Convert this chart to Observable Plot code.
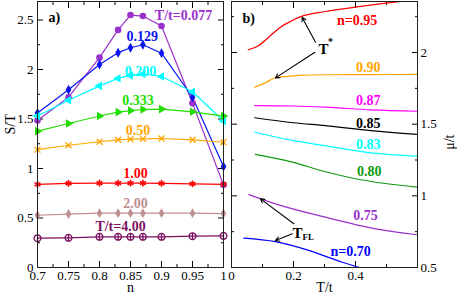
<!DOCTYPE html>
<html><head><meta charset="utf-8">
<script src="https://cdn.jsdelivr.net/npm/d3@7"></script>
<script src="https://cdn.jsdelivr.net/npm/@observablehq/plot@0.6"></script>
<style>
body{margin:0;background:#fff}
#wrap{position:relative;width:457px;height:297px;overflow:hidden}
#wrap svg{position:absolute;left:0;top:0}
#wrap svg, #wrap svg text{font-family:"Liberation Serif","DejaVu Serif",serif !important}
</style></head><body><div id="wrap"></div>
<script>
// ---------- panel a data: S/T vs n ----------
const nValues = [0.7, 0.75, 0.8, 0.83, 0.85, 0.87, 0.9, 0.95, 1.0];
const st_T0077 = [1.485, 1.72, 2.12, 2.40, 2.55, 2.54, 2.44, 1.66, 0.835];
const st_T0129 = [1.56, 1.795, 2.05, 2.17, 2.22, 2.25, 2.165, 1.72, 1.02];
const st_T0200 = [1.53, 1.69, 1.835, 1.91, 1.94, 1.955, 1.93, 1.775, 1.48];
const st_T0333 = [1.377, 1.455, 1.53, 1.57, 1.585, 1.596, 1.60, 1.573, 1.53];
const st_T050  = [1.19, 1.235, 1.27, 1.29, 1.296, 1.30, 1.303, 1.29, 1.265];
const st_T100  = [0.84, 0.85, 0.853, 0.853, 0.853, 0.853, 0.85, 0.845, 0.84];
const st_T200  = [0.528, 0.54, 0.549, 0.549, 0.549, 0.549, 0.549, 0.549, 0.545];
const st_T400  = [0.296, 0.30, 0.31, 0.31, 0.31, 0.31, 0.31, 0.316, 0.32];
const seriesA = ["0.077", "0.129", "0.200", "0.333", "0.50", "1.00", "2.00", "4.00"];
const valuesA = [st_T0077, st_T0129, st_T0200, st_T0333, st_T050, st_T100, st_T200, st_T400];
const labelsA = ["T/t=0.077", "0.129", "0.200", "0.333", "0.50", "1.00", "2.00", "T/t=4.00"];
const labelNA = [0.9355, 0.869, 0.866, 0.862, 0.862, 0.858, 0.858, 0.834];
const labelVA = [2.505, 2.283, 1.93, 1.643, 1.343, 0.906, 0.60, 0.367];

// ---------- panel b data: mu/t vs T/t ----------
const curvesN = ["0.95", "0.90", "0.87", "0.85", "0.83", "0.80", "0.75", "0.70"];
const T_095 = [0.054, 0.088, 0.12, 0.158, 0.196, 0.228, 0.303, 0.41, 0.497, 0.6];
const mu_095 = [2.019, 2.049, 2.107, 2.177, 2.223, 2.254, 2.286, 2.32, 2.344, 2.368];
const T_090 = [0.075, 0.11, 0.142, 0.217, 0.3, 0.45, 0.6];
const mu_090 = [1.758, 1.79, 1.824, 1.84, 1.845, 1.846, 1.847];
const T_087 = [0.075, 0.2, 0.303, 0.45, 0.6];
const mu_087 = [1.63, 1.627, 1.619, 1.60, 1.59];
const T_085 = [0.075, 0.2, 0.303, 0.45, 0.6];
const mu_085 = [1.545, 1.51, 1.49, 1.455, 1.428];
const T_083 = [0.075, 0.2, 0.3, 0.45, 0.6];
const mu_083 = [1.444, 1.385, 1.35, 1.30, 1.277];
const T_080 = [0.077, 0.196, 0.3, 0.4, 0.6];
const mu_080 = [1.289, 1.235, 1.17, 1.119, 1.06];
const T_075 = [0.056, 0.142, 0.303, 0.465, 0.6];
const mu_075 = [1.009, 0.944, 0.851, 0.77, 0.728];
const T_070 = [0.04, 0.142, 0.249, 0.357, 0.41, 0.45];
const mu_070 = [0.705, 0.68, 0.619, 0.537, 0.502, 0.475];
const curvesT = [T_095, T_090, T_087, T_085, T_083, T_080, T_075, T_070];
const curvesMu = [mu_095, mu_090, mu_087, mu_085, mu_083, mu_080, mu_075, mu_070];
const labelsB = ["n=0.95", "0.90", "0.87", "0.85", "0.83", "0.80", "0.75", "n=0.70"];
const labelTB = [0.405, 0.441, 0.441, 0.441, 0.441, 0.444, 0.432, 0.384];
const labelMuB = [2.195, 1.867, 1.637, 1.47, 1.33, 1.135, 0.828, 0.577];
// annotation arrows (data coords)
const arrowsB = [
  {x1: 0.271, y1: 2.072, x2: 0.228, y2: 2.245},
  {x1: 0.269, y1: 2.002, x2: 0.142, y2: 1.823},
  {x1: 0.201, y1: 0.805, x2: 0.0935, y2: 0.979},
  {x1: 0.196, y1: 0.735, x2: 0.142, y2: 0.688}
];

// ---------- styles ----------
const colA = {"0.077": "#9932cc", "0.129": "#0a14f0", "0.200": "#00ffff", "0.333": "#22dd00",
  "0.50": "#ffa500", "1.00": "#ff0000", "2.00": "#c09090", "4.00": "#7b1060"};
const colB = {"0.95": "#ff0000", "0.90": "#ffa500", "0.87": "#ff00ff", "0.85": "#000000",
  "0.83": "#00ffff", "0.80": "#109a10", "0.75": "#9932cc", "0.70": "#0000ff"};

const rowsA = [];
seriesA.forEach((s, k) => nValues.forEach((n, i) => rowsA.push({s, n, v: valuesA[k][i]})));
const rowsB = [];
curvesN.forEach((c, k) => curvesT[k].forEach((t, i) => rowsB.push({c, t, mu: curvesMu[k][i]})));
const labA = labelsA.map((text, i) => ({text, n: labelNA[i], v: labelVA[i], s: seriesA[i]}));
const labB = labelsB.map((text, i) => ({text, t: labelTB[i], mu: labelMuB[i], c: curvesN[i]}));

const circleBar = {draw(ctx, size) {
  const r = Math.sqrt(size / Math.PI);
  ctx.moveTo(r, 0); ctx.arc(0, 0, r, 0, 2 * Math.PI);
  ctx.moveTo(0, -r); ctx.lineTo(0, r);
}};
const mk = {
  "0.077": {symbol: "circle", r: 3.3, fill: colA["0.077"]},
  "0.129": {symbol: "diamond", r: 3.0, fill: colA["0.129"]},
  "0.200": {symbol: "triangle", r: 3.2, fill: colA["0.200"], rotate: -90},
  "0.333": {symbol: "triangle", r: 3.2, fill: colA["0.333"], rotate: 90},
  "0.50": {symbol: "times", r: 2.8, stroke: colA["0.50"], strokeWidth: 1.3},
  "1.00": {symbol: "asterisk", r: 3.2, stroke: colA["1.00"], strokeWidth: 1.6},
  "2.00": {symbol: "diamond", r: 3.0, fill: colA["2.00"]},
  "4.00": {symbol: circleBar, r: 3.4, stroke: colA["4.00"], strokeWidth: 1.3, fill: "none"}
};

const font = "Liberation Serif";
const blank = () => "";
const fmt = d3.format("~g");
const range = (a, b, s) => d3.range(Math.round((b - a) / s) + 1).map(i => +(a + i * s).toFixed(4));

const ax = (o) => Plot.axisX({label: null, fontSize: 13, ...o});
const ay = (o) => Plot.axisY({label: null, fontSize: 13, ...o});

// ---------- panel a ----------
const plotA = Plot.plot({
  width: 457, height: 297,
  marginLeft: 37, marginRight: 234, marginTop: 1, marginBottom: 30,
  style: {fontFamily: font, fontSize: "13px", background: "transparent", overflow: "visible", color: "black"},
  x: {domain: [0.7, 1.0]},
  y: {domain: [0, 2.687]},
  marks: [
    ax({ticks: range(0.7, 1.0, 0.05), tickSize: -6, tickPadding: 9, tickFormat: fmt}),
    ax({ticks: range(0.725, 0.975, 0.05), tickSize: -3, tickFormat: blank}),
    ax({anchor: "top", ticks: range(0.7, 1.0, 0.05), tickSize: -6, tickFormat: blank}),
    ax({anchor: "top", ticks: range(0.725, 0.975, 0.05), tickSize: -3, tickFormat: blank}),
    ay({ticks: range(0, 2.5, 0.5), tickSize: -6, tickPadding: 10, tickFormat: fmt}),
    ay({ticks: range(0.25, 2.75, 0.5).filter(d => d < 2.68), tickSize: -3, tickFormat: blank}),
    ay({anchor: "right", ticks: range(0, 2.5, 0.5), tickSize: -6, tickFormat: blank}),
    ay({anchor: "right", ticks: range(0.25, 2.75, 0.5).filter(d => d < 2.68), tickSize: -3, tickFormat: blank}),
    Plot.line(rowsA, {x: "n", y: "v", z: "s", stroke: d => colA[d.s], strokeWidth: 1.2}),
    ...seriesA.map(s => Plot.dot(rowsA.filter(d => d.s === s), {x: "n", y: "v", ...mk[s]})),
    Plot.frame({stroke: "#222", strokeWidth: 1}),
    Plot.text(labA, {x: "n", y: "v", text: "text", fill: d => colA[d.s], fontWeight: "bold",
      fontSize: 14, lineAnchor: "bottom", textAnchor: "middle"}),
    Plot.text(["a)"], {x: [0.7177], y: [2.475], text: d => d, fontWeight: "bold", fontSize: 14,
      lineAnchor: "bottom", textAnchor: "start"}),
    Plot.text(["n"], {frameAnchor: "bottom", dy: 24, text: d => d, fontSize: 14, lineAnchor: "bottom"}),
    Plot.text(["S/T"], {frameAnchor: "left", dx: -27, rotate: -90, text: d => d, fontSize: 14})
  ]
});

// ---------- panel b ----------
const plotB = Plot.plot({
  width: 457, height: 297,
  marginLeft: 231, marginRight: 40, marginTop: 1, marginBottom: 30,
  style: {fontFamily: font, fontSize: "13px", background: "transparent", overflow: "visible", color: "black"},
  x: {domain: [0, 0.6]},
  y: {domain: [0.5, 2.356]},
  marks: [
    ax({ticks: [0, 0.2, 0.4], tickSize: -6, tickPadding: 9, tickFormat: fmt}),
    ax({ticks: [0.1, 0.3, 0.5], tickSize: -3, tickFormat: blank}),
    ax({anchor: "top", ticks: [0.2, 0.4], tickSize: -6, tickFormat: blank}),
    ax({anchor: "top", ticks: [0.1, 0.3, 0.5], tickSize: -3, tickFormat: blank}),
    ay({anchor: "right", ticks: [0.5, 1, 1.5, 2], tickSize: -6, tickPadding: 9, tickFormat: fmt}),
    ay({anchor: "right", ticks: [0.75, 1.25, 1.75, 2.25], tickSize: -3, tickFormat: blank}),
    ay({anchor: "left", ticks: [0.5, 1, 1.5, 2], tickSize: -6, tickFormat: blank}),
    ay({anchor: "left", ticks: [0.75, 1.25, 1.75, 2.25], tickSize: -3, tickFormat: blank}),
    Plot.line(rowsB, {x: "t", y: "mu", z: "c", stroke: d => colB[d.c], strokeWidth: 1.2, curve: "monotone-x", clip: true}),
    Plot.frame({stroke: "#222", strokeWidth: 1}),
    Plot.text(labB, {x: "t", y: "mu", text: "text", fill: d => colB[d.c], fontWeight: "bold",
      fontSize: 14, lineAnchor: "bottom", textAnchor: "middle"}),
    Plot.arrow(arrowsB, {x1: "x1", y1: "y1", x2: "x2", y2: "y2", stroke: "black", strokeWidth: 1.1, headLength: 6}),
    Plot.text(["T"], {x: [0.297], y: [1.993], text: d => d, fontWeight: "bold", fontSize: 15, lineAnchor: "bottom"}),
    Plot.text(["*"], {x: [0.297], y: [1.993], dx: 7, dy: -9, text: d => d, fontWeight: "bold", fontSize: 10, lineAnchor: "bottom"}),
    Plot.text(["T"], {x: [0.197], y: [0.704], text: d => d, fontWeight: "bold", fontSize: 15, lineAnchor: "bottom", textAnchor: "start"}),
    Plot.text(["FL"], {x: [0.197], y: [0.704], dx: 10, dy: 2, text: d => d, fontWeight: "bold", fontSize: 9, lineAnchor: "bottom", textAnchor: "start"}),
    Plot.text(["b)"], {x: [0.0355], y: [2.205], text: d => d, fontWeight: "bold", fontSize: 14,
      lineAnchor: "bottom", textAnchor: "start"}),
    Plot.text(["T/t"], {frameAnchor: "bottom", dy: 24, text: d => d, fontSize: 14, lineAnchor: "bottom"}),
    Plot.text(["\u03bc/t"], {frameAnchor: "right", dx: 32, rotate: -90, text: d => d, fontSize: 14})
  ]
});

const wrap = document.getElementById("wrap");
wrap.appendChild(plotA);
wrap.appendChild(plotB);
</script></body></html>
